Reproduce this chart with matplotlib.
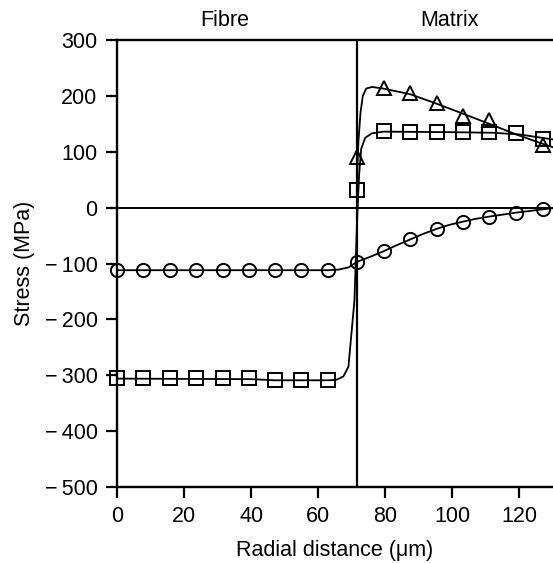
import numpy as np
import matplotlib.pyplot as plt

plt.rcParams['font.family'] = ['Liberation Sans', 'DejaVu Sans']

# marker positions (um) and stresses (MPa)
x_fibre = [0, 7.9, 15.7, 23.6, 31.5, 39.3, 47.2, 55.0, 62.9]
x_matrix = [71.6, 79.5, 87.4, 95.3, 103.2, 111.0, 118.9, 127.0]

circ_fibre = [-112, -112, -112, -112, -112, -112, -112, -112, -112]
circ_matrix = [-97, -78, -57, -38, -26, -17, -10, -2]

sq_fibre = [-305, -305, -305, -305, -305, -305, -309, -309, -309]
sq_matrix = [32, 137, 135, 135, 135, 135, 134, 123]

tri_x = [71.6, 79.5, 87.4, 95.3, 103.2, 111.0, 127.0]
tri_y = [91, 214, 205, 187, 164, 157, 112]

# fitted curves
circ_curve_x = [0, 63, 66, 69, 71.6, 75.5, 79.5, 83.5, 87.4, 91.3, 95.3, 99, 103.2,
                107, 111, 115, 118.9, 123, 127, 130]
circ_curve_y = [-112, -112, -111, -107, -97, -88, -78, -67, -57, -47, -38, -31, -25,
                -20, -16, -12.5, -9, -6, -3, -1]

sq_curve_x = [0, 40, 47, 63, 65.5, 67.5, 69, 70.8, 71.6, 72.2, 72.8, 74, 76, 79.5,
              100, 112, 120, 130]
sq_curve_y = [-306, -307, -309, -309, -308, -302, -285, -166, -20, 60, 105, 125, 133,
              136, 135, 134, 131, 122]

tri_curve_x = [71.6, 72.0, 72.6, 73.3, 74.3, 76, 79.5, 87.4, 95.3, 103.2, 111, 119, 127, 130]
tri_curve_y = [60, 120, 170, 200, 213, 216, 213, 203, 186, 168, 150, 131, 114, 108]

interface = 71.5
fs = 15.5

fig = plt.figure(figsize=(5.53, 5.63), dpi=100)
ax = fig.add_axes([117 / 553, 1 - 487 / 563, 1 - 117 / 553, (487 - 40) / 563])

lw = 1.3
ax.plot(circ_curve_x, circ_curve_y, color='black', lw=lw)
ax.plot(sq_curve_x, sq_curve_y, color='black', lw=lw)
ax.plot(tri_curve_x, tri_curve_y, color='black', lw=lw)

mk = dict(color='black', linestyle='none', fillstyle='none', markersize=9.5,
          markeredgewidth=1.4, clip_on=False)
ax.plot(x_fibre + x_matrix, circ_fibre + circ_matrix, marker='o', **mk)
ax.plot(x_fibre + x_matrix, sq_fibre + sq_matrix, marker='s', **mk)
ax.plot(tri_x, tri_y, marker='^', **mk)

ax.axhline(0, color='black', lw=1.4)
ax.axvline(interface, color='black', lw=1.6)

ax.set_xlim(0, 130)
ax.set_ylim(-500, 300)
ax.set_xticks(np.arange(0, 121, 20))
ax.set_yticks(np.arange(-500, 301, 100))
ax.set_yticklabels([f'\u2212\u2009{abs(v)}' if v < 0 else str(v) for v in range(-500, 301, 100)])

for s in ['left', 'bottom', 'top']:
    ax.spines[s].set_linewidth(1.7)
ax.spines['right'].set_visible(False)
ax.tick_params(direction='out', length=8, width=1.6, labelsize=fs, pad=6)

ax.set_xlabel('Radial distance (\u03bcm)', fontsize=fs, labelpad=9)
ax.set_ylabel('Stress (MPa)', fontsize=fs, labelpad=7)

ax.text(32, 1.02, 'Fibre', transform=ax.get_xaxis_transform(), ha='center',
        va='bottom', fontsize=fs)
ax.text(99, 1.02, 'Matrix', transform=ax.get_xaxis_transform(), ha='center',
        va='bottom', fontsize=fs)

fig.savefig('out.png', dpi=100)
